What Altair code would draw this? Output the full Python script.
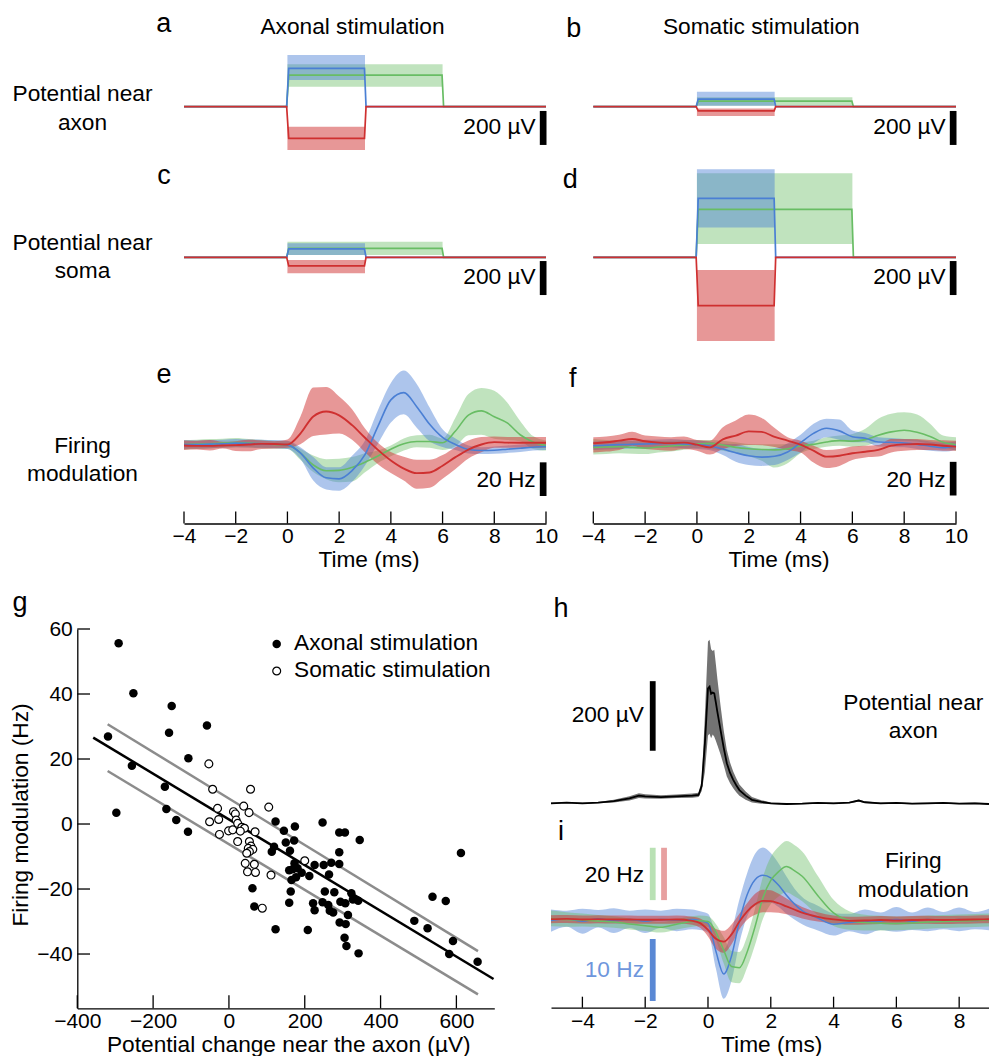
import altair as alt
import pandas as pd

# ============================ DATA ============================
# panels a-d : pulse responses (series order: blue, green, red)
PULSE_END = [3, 6, 3]                       # ms
A_MEAN = [225, 186, -186]; A_LO = [157, 118, -255]; A_HI = [304, 249, -118]
B_MEAN = [45, 33, -25];    B_LO = [6, 6, -55];      B_HI = [88, 55, -10]
C_MEAN = [49, 53, -51];    C_LO = [14, 14, -94];    C_HI = [82, 92, -16]
D_MEAN = [347, 282, -284]; D_LO = [175, 78, -492];  D_HI = [518, 494, -75]

# panels e-f : firing modulation (Hz)
T_EF = [-4, -3.5, -3, -2.5, -2, -1.5, -1, -0.5, 0, 0.5, 1, 1.5, 2, 2.5, 3, 3.5, 4,
        4.5, 5, 5.5, 6, 6.5, 7, 7.5, 8, 8.5, 9, 9.5, 10]
E_RED_MEAN = [-0.6, -0.8, -0.8, -0.6, -0.4, 0, 0.4, 0.3, 0, 6.5, 16.7, 19.6, 17.3, 11.5, 4.0, -3.2, -9.5,
              -14.3, -17.0, -16.6, -12.6, -7.5, -3.0, 0, 1.4, 1.1, 1.0, 1.0, 1.0]
E_RED_HI = [2.4, 2.2, 2.6, 1.6, 2.0, 2.8, 2.4, 2.0, 3.0, 16.5, 33.8, 34.1, 28.5, 21, 9.5, 1, -4.5,
            -7.3, -9.1, -9.1, -6.3, -1.6, 2.4, 4.4, 4.8, 4.4, 4.4, 4.4, 4.4]
E_RED_LO = [-3.2, -3.0, -3.6, -2.4, -3.8, -4.0, -2.6, -2.4, -2.0, 0.2, 5.0, 6.0, 6.5, 2.8, -4.6, -11.7, -17,
            -21.4, -26.3, -25.7, -20.4, -14.5, -8.3, -4.6, -2.0, -2.0, -2.0, -2.0, -2.0]
E_BLUE_MEAN = [0, 0, 0.2, 0.4, 0.8, 0.6, 0.4, 0.2, -0.2, -5.0, -14.0, -19.8, -20.4, -15.5, -6.0, 10.8, 26.5,
               30.8, 22.5, 12, 4.2, 0, -3.0, -3.6, -3.4, -2.8, -2.2, -1.6, -1.2]
E_BLUE_HI = [2.5, 2.4, 2.6, 2.8, 3.2, 3.0, 2.8, 2.6, 2.2, -1.6, -7.5, -13.5, -13.5, -6.7, 2.4, 20.4, 36.6,
             44, 36, 22, 9, 3.6, -0.6, -1.6, -1.2, -0.6, 0, 0.4, 0.8]
E_BLUE_LO = [-2.5, -2.4, -2.2, -2.0, -1.6, -1.8, -2.0, -2.2, -2.6, -8.5, -21.4, -26.7, -27.5, -22.2, -12.5, 0.4, 13,
             18, 10, 2, -1.5, -3.2, -5.3, -5.6, -5.5, -5.0, -4.4, -3.6, -3.2]
E_GREEN_MEAN = [0, 0.2, 0.4, 0.8, 1.2, 0.8, 0.4, 0, -0.2, -5.0, -12.2, -15.6, -15.4, -13.6, -10.5, -6.8, -2.8,
                0.4, 1.8, 1.8, 1.0, 8.0, 17.5, 20.0, 16.5, 12.8, 5.8, 1.5, -0.6]
E_GREEN_HI = [2.6, 2.8, 3.2, 3.4, 3.8, 3.2, 2.8, 2.2, 2.0, -2.5, -6.5, -8.7, -8.5, -7.5, -5.2, -3.6, -0.6,
              3.6, 5.5, 5.8, 3.6, 16, 30, 33.6, 32, 25, 14, 5, 2.4]
E_GREEN_LO = [-3.0, -2.6, -2.4, -2.0, -1.6, -1.8, -2.2, -2.4, -2.6, -9, -16.4, -20.6, -22.4, -22, -16.5, -11, -7,
              -3.6, -1.6, -2, -3.2, -1, 5.5, 5.8, 3.4, 2.6, 2, -2.6, -3.6]

F_RED_MEAN = [0.4, 1.0, 2.0, 3.0, 1.6, 0.8, 0.5, 0.8, -0.4, -2.0, 2.8, 5.0, 7.5, 7.2, 4.2, 2.0, -0.4,
              -4.0, -7.5, -7.0, -5.5, -4.6, -3.5, -1.0, -0.2, 0, -0.3, -1.0, -1.6]
F_RED_HI = [4, 4.4, 5.5, 7.3, 5, 4.5, 4, 4.4, 2.4, 2, 10, 14, 17.5, 15.5, 9.5, 4, 2,
            -1, -3.6, -3, -1.5, -1, -0.6, 3, 3, 3, 2.4, 2.2, 2]
F_RED_LO = [-5, -4.5, -3.5, -1, -3, -3.5, -4, -3, -4, -6.3, -3, -1.2, -0.6, -0.8, -1.8, -3.5, -5,
            -11, -14.3, -13, -9.5, -8, -7.5, -5, -4, -3.6, -3.6, -4, -4]
F_BLUE_MEAN = [-1, -0.7, -0.4, -0.2, 0, 0.2, 0.4, 0, -0.4, -1.2, -3.0, -5.2, -7.0, -7.8, -7.3, -4.8, 0.8,
               6.3, 9.4, 7.8, 4.3, 3.4, 1.2, 1.0, 0.6, -0.2, -1.3, -2.2, -1.0]
F_BLUE_HI = [1.5, 1.8, 2.1, 2.3, 2.5, 2.7, 2.9, 2.5, 2.1, 1.3, 0.2, 0, -1.8, -3, -2.5, 0.5, 5.5,
             12, 15, 14.5, 8, 6.5, 4, 3.5, 3, 2.5, 1.5, 0.8, 1.5]
F_BLUE_LO = [-3.5, -3.2, -2.9, -2.7, -2.5, -2.3, -2.1, -2.5, -2.9, -3.7, -6.5, -10.5, -12.5, -13, -12.5, -9.5, -5,
             0.5, 4, 2.5, 1, 1, -1.5, -1.8, -2, -3, -4, -4.5, -3.5]
F_GREEN_MEAN = [-2, -1.8, -1.6, -2.0, -2.4, -1.8, -1.2, -0.6, 0, 0.4, -0.6, -2.0, -2.8, -3.3, -3.5, -2.8, -1.2,
                -0.2, 1.2, 2.0, 1.7, 2.6, 5.2, 7.2, 8.2, 7.0, 4.5, 1.0, -0.4]
F_GREEN_HI = [3, 2.4, 2, 1.8, 1.6, 1.8, 2, 2.2, 2.4, 2.4, 2, 1, 0, -0.2, -0.2, 0, 1,
              2, 4, 5, 6, 9, 15, 18, 18.8, 17.5, 12, 5, 4]
F_GREEN_LO = [-6.3, -6, -5.5, -5.8, -6, -5, -4.4, -3.4, -2.4, -3, -4, -5.5, -7.3, -10, -14, -11.5, -5.5,
              -3, -1.6, -1, -1.6, -1, 1, 2, 2, 1.5, 0, -2, -4]

# panel g : scatter
AX_X = [-291, -252, -151, -319, -158, -58, -256, -107, -169, -297, -165, -139, -108, 123, 247, 174, 145, 291,
        306, 345, 150, 172, 119, 113, 161, 291, 612, 173, 168, 159, 181, 192, 212, 226, 250, 270, 291, 264,
        165, 177, 163, 159, 62, 67, 123, 208, 222, 226, 253, 278, 247, 262, 266, 275, 294, 307, 323, 327,
        341, 314, 292, 308, 305, 310, 342, 489, 524, 537, 572, 591, 581, 656]
AX_Y = [55.6, 40.2, 36.3, 26.9, 28.1, 30.3, 17.9, 20.2, 11.5, 3.5, 4.6, 1.2, -2.4, 0.8, 0.5, -0.8, -2.1, -2.6,
        -2.6, -4.9, -5.7, -5.1, -7, -8.5, -8.2, -8.7, -8.9, -12.1, -13.9, -14.2, -13.6, -15, -16, -12.6, -12.6,
        -11.9, -12.3, -15.5, -17.2, -16.4, -20.8, -24.2, -19.8, -25.4, -32.4, -32.6, -24.4, -26.5, -20.8, -21,
        -24.1, -24.9, -26.7, -27.2, -23.9, -24.4, -21.3, -23.2, -23.6, -28, -30.3, -30.8, -35, -37.5, -39.8,
        -29.8, -32.1, -22.4, -23.7, -36, -40, -42.4]
SO_X = [-53, -43, 57, 105, 39, -30, 53, 12, 17, -27, -51, 19, 23, 34, 41, 69, -1, 10, 30, -25, 23, 54, 58,
        51, 63, 54, 47, 200, 43, 67, 49, 70, 111, 88]
SO_Y = [18.5, 10.7, 10.7, 5.2, 5.5, 4.8, 3.5, 3.8, 3.1, 1.4, 0.7, 1.2, 0.2, -1, -1.3, -2.4, -2.1, -1.8, -2.2,
        -3.2, -5.4, -5.4, -6.8, -7.5, -7.8, -8.5, -9, -11.3, -12.1, -12.4, -14.7, -14.9, -15.7, -25.9]
FIT_X = [-358, 698];   FIT_Y = [26.6, -47.7]
CI_UP_X = [-320, 657]; CI_UP_Y = [30.7, -39.1]
CI_LO_X = [-320, 657]; CI_LO_Y = [16.3, -52.4]

# panel h : spike-triggered potential near axon (uV)
T_H = [-5, -4.5, -4, -3.5, -3, -2.5, -2.2, -2, -1.5, -1, -0.5, -0.3, -0.2, -0.1, 0, 0.05, 0.1, 0.15, 0.2,
       0.25, 0.3, 0.4, 0.5, 0.6, 0.7, 0.8, 0.9, 1.0, 1.2, 1.4, 1.7, 2, 2.5, 3, 3.5, 4, 4.5, 4.8, 5, 5.5,
       6, 6.5, 7, 7.5, 8, 8.5, 8.95]
H_MEAN = [0, 2, 0, 2, 6, 14, 22, 20, 18, 20, 22, 24, 50, 170, 330, 335, 315, 318, 316, 290, 262, 210, 160,
          115, 88, 68, 52, 38, 22, 10, 4, 0, -2, -1, 1, 0, 2, 8, 3, 0, 1, -1, 0, 1, -1, 0, -2]
H_SD = [2, 2, 2, 2, 4, 6, 7, 6, 5, 5, 6, 6, 15, 80, 135, 135, 128, 120, 125, 110, 95, 70, 50, 38, 30, 24,
        20, 16, 12, 8, 5, 2, 2, 2, 2, 2, 2, 3, 2, 2, 2, 2, 2, 2, 2, 2, 2]

# panel i : firing modulation (red/green in 20-Hz units, blue in 10-Hz units)
T_I = [-5, -4.5, -4, -3.5, -3, -2.5, -2, -1.5, -1, -0.5, -0.25, 0, 0.25, 0.5, 0.75, 1, 1.25, 1.5, 1.75, 2,
       2.25, 2.5, 2.75, 3, 3.5, 4, 4.5, 5, 5.5, 6, 6.5, 7, 7.5, 8, 8.5, 9]
I_RED_MEAN = [0.3, 0.4, 0.2, 0.3, 0.2, 0.2, 0.1, 0.1, 0.2, -0.3, -1.2, -3.8, -7.2, -8.3, -5.5, -0.6, 3.3, 6.0,
              7.3, 7.2, 6.4, 5.2, 4.0, 2.8, 1.2, 0.2, -0.3, -0.2, 0, -0.2, 0, 0.1, 0, 0.1, 0.2, 0.3]
I_RED_SD = [1.5, 1.5, 1.5, 1.5, 1.5, 1.5, 1.5, 1.5, 1.5, 1.5, 1.8, 2.5, 3.8, 4.2, 3.8, 3.0, 3.2, 4.0, 4.3,
            4.2, 3.6, 3.0, 2.5, 2.2, 1.8, 1.5, 1.5, 1.5, 1.5, 1.5, 1.5, 1.5, 1.5, 1.5, 1.5, 1.5]
I_GREEN_MEAN = [0.6, 0.2, 0, -0.4, -0.8, -1.5, -2.2, -2.8, -1.6, -0.6, -0.3, -0.6, -4.5, -11.5, -17.8, -18.2,
                -12.1, -2.5, 8.5, 15.1, 18.5, 20.4, 18.9, 16.7, 9.3, 2.7, -0.2, -1.0, -1.2, -1.3, -1.1, -0.8,
                -0.6, -0.4, -0.2, 0]
I_GREEN_SD = [3, 2.8, 2.5, 2.3, 2.2, 2.1, 2, 2, 2, 2, 2, 2, 3, 5, 6, 6, 6, 7, 8, 9, 9.5, 9.8, 9.8, 9.5, 7.5,
              5, 3.5, 3, 2.8, 2.6, 2.5, 2.5, 2.5, 2.5, 2.5, 2.5]
I_BLUE_MEAN = [-0.1, 0.2, -0.2, 0.2, -0.1, 0.1, -0.2, 0.1, 0, 0.1, -0.1, -0.5, -5.0, -8.7, -5.8, -0.2, 4.1,
               6.5, 7.2, 6.8, 5.6, 4.0, 2.6, 1.5, 0.3, -0.7, -0.4, -0.3, -0.2, 0.1, -0.2, 0.1, -0.1, 0.1,
               -0.1, 0.1]
I_BLUE_SD = [1.8, 1.3, 2.0, 1.4, 2.0, 1.4, 1.9, 1.4, 1.8, 1.6, 1.5, 1.5, 2.8, 4.0, 4.0, 3.5, 3.5, 4.2, 4.5,
             4.0, 3.5, 3.0, 2.5, 2.2, 2.0, 1.8, 1.4, 2.0, 1.4, 2.0, 1.4, 1.9, 1.4, 1.9, 1.4, 1.8]

# ticks
TIME_TICKS = [-4, -2, 0, 2, 4, 6, 8, 10]
I_TICKS = [-4, -2, 0, 2, 4, 6, 8]
G_X_TICKS = [-400, -200, 0, 200, 400, 600]
G_Y_TICKS = [-40, -20, 0, 20, 40, 60]

# scale bars (data units)
BAR_AB = [-25, -225]; BAR_CD = [-22, -222]; BAR_EF = [-10.6, -30.6]
BAR_H = [151, 351]; BAR_I_GR = [7.6, 27.6]; BAR_I_BLUE = [-3.06, -13.06]

# ============================ STYLE ============================
FONT = "Liberation Sans"
W, H = 981, 1048
BLUE, GREEN, RED = "#4a7fd4", "#68bd64", "#cf3030"
COL = {"blue": BLUE, "green": GREEN, "red": RED}
BAND_OP = {"blue": 0.45, "green": 0.42, "red": 0.5}
SERIES = ["blue", "green", "red"]
ORDER = ["green", "blue", "red"]
LETTER, TXT, TICKF = 27, 22.7, 21


def sc(domain, rng):
    return alt.Scale(domain=domain, range=rng, nice=False, zero=False)


def ysc(base, k, lo, hi):
    return sc([lo, hi], [base - lo * k, base - hi * k])


XL = sc([-4, 10], [176, 538])
XR = sc([-4, 10], [585.3, 948])
XHI = sc([-5, 8.95], [543, 981])
XG = sc([-400, 700], [69.3, 486.3])
YG = sc([-56.7, 60], [1000.3, 621])

Y_A = ysc(98.7, 0.17, -520, 540)
Y_C = ysc(249.3, 0.17, -520, 540)
Y_E = ysc(436.5, 1.683, -40, 50)
Y_F = ysc(436.0, 1.683, -40, 50)
Y_H = ysc(795.3, 0.348, -60, 500)
Y_I = ysc(912, 2.617, -30, 35)
Y_IB = ysc(912, 6.2, -15, 15)


def one(**kw):
    return pd.DataFrame({k: [v] for k, v in kw.items()})


def txt(s, x, y, size=TXT, align="center", color="black", angle=0):
    return alt.Chart(one(label=s)).mark_text(
        align=align, baseline="alphabetic", font=FONT, fontSize=size, color=color, angle=angle
    ).encode(x=alt.value(x), y=alt.value(y), text="label:N")


def pulse_layers(mean, lo, hi, xs, ys):
    out = []
    for name in ORDER:
        i = SERIES.index(name)
        df = one(t0=0, t1=PULSE_END[i], lo=lo[i], hi=hi[i])
        out.append(alt.Chart(df).mark_rect(color=COL[name], opacity=BAND_OP[name]).encode(
            x=alt.X("t0:Q", scale=xs, axis=None), x2="t1:Q",
            y=alt.Y("lo:Q", scale=ys, axis=None), y2="hi:Q"))
    for name in ORDER:
        i = SERIES.index(name)
        d = PULSE_END[i]
        df = pd.DataFrame({"t": [-4, -0.03, 0.05, d - 0.02, d + 0.04, 10],
                           "v": [0, 0, mean[i], mean[i], 0, 0]})
        out.append(alt.Chart(df).mark_line(color=COL[name], strokeWidth=1.7).encode(
            x=alt.X("t:Q", scale=xs, axis=None), y=alt.Y("v:Q", scale=ys, axis=None)))
    return out


def curve_layers(t, series, xs, ys, order=ORDER, lw=1.6):
    out = []
    for name in order:
        m, lo, hi, ysn = series[name]
        df = pd.DataFrame({"t": t, "lo": lo, "hi": hi})
        out.append(alt.Chart(df).mark_area(color=COL[name], opacity=BAND_OP[name], interpolate="monotone").encode(
            x=alt.X("t:Q", scale=xs, axis=None), y=alt.Y("lo:Q", scale=ysn, axis=None), y2="hi:Q"))
    for name in order:
        m, lo, hi, ysn = series[name]
        df = pd.DataFrame({"t": t, "m": m})
        out.append(alt.Chart(df).mark_line(color=COL[name], strokeWidth=lw + (0.3 if name == "red" else 0),
                                           interpolate="monotone").encode(
            x=alt.X("t:Q", scale=xs, axis=None), y=alt.Y("m:Q", scale=ysn, axis=None)))
    return out


def vbar(x, y01, xs, ys, color="black", width=6.7):
    df = one(t=x, y0=y01[0], y1=y01[1])
    return alt.Chart(df).mark_rule(color=color, strokeWidth=width).encode(
        x=alt.X("t:Q", scale=xs, axis=None), y=alt.Y("y0:Q", scale=ys, axis=None), y2="y1:Q")


def xaxis_ticks(values, xs, y_axis, tick_len, pad):
    ax = alt.Axis(orient="bottom", offset=y_axis - H, values=values, title=None, labelPadding=pad,
                  ticks=False, tickSize=0, labelFlush=False, labelOverlap=False, grid=False)
    return alt.Chart(pd.DataFrame({"v": values})).mark_rule(color="black", strokeWidth=1.3).encode(
        x=alt.X("v:Q", scale=xs, axis=ax), y=alt.value(y_axis - tick_len), y2=alt.value(y_axis))


layers = []
# ---- a-d
layers += pulse_layers(A_MEAN, A_LO, A_HI, XL, Y_A)
layers += pulse_layers(B_MEAN, B_LO, B_HI, XR, Y_A)
layers += pulse_layers(C_MEAN, C_LO, C_HI, XL, Y_C)
layers += pulse_layers(D_MEAN, D_LO, D_HI, XR, Y_C)
layers += [vbar(9.89, BAR_AB, XL, Y_A), vbar(9.89, BAR_AB, XR, Y_A),
           vbar(9.89, BAR_CD, XL, Y_C), vbar(9.89, BAR_CD, XR, Y_C)]

# ---- e-f
layers += curve_layers(T_EF, {"red": (E_RED_MEAN, E_RED_LO, E_RED_HI, Y_E),
                              "blue": (E_BLUE_MEAN, E_BLUE_LO, E_BLUE_HI, Y_E),
                              "green": (E_GREEN_MEAN, E_GREEN_LO, E_GREEN_HI, Y_E)}, XL, Y_E)
layers += curve_layers(T_EF, {"red": (F_RED_MEAN, F_RED_LO, F_RED_HI, Y_F),
                              "blue": (F_BLUE_MEAN, F_BLUE_LO, F_BLUE_HI, Y_F),
                              "green": (F_GREEN_MEAN, F_GREEN_LO, F_GREEN_HI, Y_F)}, XR, Y_F)
layers += [vbar(9.89, BAR_EF, XL, Y_E), vbar(9.89, BAR_EF, XR, Y_F)]
layers += [xaxis_ticks(TIME_TICKS, XL, 515.5, 12, 2), xaxis_ticks(TIME_TICKS, XR, 515.5, 12, 2)]

# ---- g
for xs_, ys_, col in [(CI_UP_X, CI_UP_Y, "#8c8c8c"), (CI_LO_X, CI_LO_Y, "#8c8c8c"), (FIT_X, FIT_Y, "black")]:
    layers.append(alt.Chart(pd.DataFrame({"x": xs_, "y": ys_})).mark_line(color=col, strokeWidth=2.5).encode(
        x=alt.X("x:Q", scale=XG, axis=None), y=alt.Y("y:Q", scale=YG, axis=None)))
layers.append(alt.Chart(pd.DataFrame({"x": AX_X, "y": AX_Y})).mark_circle(color="black", size=72, opacity=1).encode(
    x=alt.X("x:Q", scale=XG, axis=None), y=alt.Y("y:Q", scale=YG, axis=None)))
layers.append(alt.Chart(pd.DataFrame({"x": SO_X, "y": SO_Y})).mark_circle(
    fill="white", stroke="black", strokeWidth=1.2, size=62, opacity=1).encode(
    x=alt.X("x:Q", scale=XG, axis=None), y=alt.Y("y:Q", scale=YG, axis=None)))
layers.append(xaxis_ticks(G_X_TICKS, XG, 1000.3, 13, 2))
layers.append(alt.Chart(pd.DataFrame({"v": G_Y_TICKS})).mark_rule(color="black", strokeWidth=1.3).encode(
    y=alt.Y("v:Q", scale=YG, axis=alt.Axis(orient="left", offset=-69.3, values=G_Y_TICKS, title=None,
                                             labelPadding=5, ticks=False, tickSize=0, labelOverlap=False,
                                             labelFlush=False, grid=False)),
    x=alt.value(69.3), x2=alt.value(82)))
layers.append(alt.Chart(one(a=1)).mark_circle(color="black", size=72, opacity=1).encode(
    x=alt.value(268.7), y=alt.value(636)))
layers.append(alt.Chart(one(a=1)).mark_circle(fill="white", stroke="black", strokeWidth=1.2, size=62,
                                              opacity=1).encode(x=alt.value(268.7), y=alt.value(663)))

# ---- h
hdf = pd.DataFrame({"t": T_H, "m": H_MEAN, "sd": H_SD})
hdf["lo"] = hdf["m"] - hdf["sd"]
hdf["hi"] = hdf["m"] + hdf["sd"]
layers.append(alt.Chart(hdf).mark_area(color="#646464", opacity=0.9).encode(
    x=alt.X("t:Q", scale=XHI, axis=None), y=alt.Y("lo:Q", scale=Y_H, axis=None), y2="hi:Q"))
layers.append(alt.Chart(hdf).mark_line(color="black", strokeWidth=1.8).encode(
    x=alt.X("t:Q", scale=XHI, axis=None), y=alt.Y("m:Q", scale=Y_H, axis=None)))
layers.append(vbar(-1.76, BAR_H, XHI, Y_H, width=5.8))

# ---- i
def with_band(m, sd):
    lo = [a - b for a, b in zip(m, sd)]
    hi = [a + b for a, b in zip(m, sd)]
    return m, lo, hi

ib = with_band(I_BLUE_MEAN, I_BLUE_SD)
ig = with_band(I_GREEN_MEAN, I_GREEN_SD)
ir = with_band(I_RED_MEAN, I_RED_SD)
layers += curve_layers(T_I, {"blue": (*ib, Y_IB), "green": (*ig, Y_I), "red": (*ir, Y_I)},
                       XHI, Y_I, order=["blue", "green", "red"], lw=1.5)
layers += [vbar(-1.76, BAR_I_GR, XHI, Y_I, color="#b9e1b4", width=5.8),
           vbar(-1.40, BAR_I_GR, XHI, Y_I, color="#e7a0a0", width=5.8),
           vbar(-1.76, BAR_I_BLUE, XHI, Y_IB, color="#5a88d4", width=5.8)]
layers.append(xaxis_ticks(I_TICKS, XHI, 999.7, 11, 3))

# ---- texts
layers += [
    txt("a", 155.7, 24.3, LETTER), txt("b", 565.7, 28.5, LETTER),
    txt("c", 156, 176, LETTER), txt("d", 562.3, 180.3, LETTER),
    txt("e", 156, 374.7, LETTER), txt("f", 564.7, 378.7, LETTER),
    txt("g", 12, 602.7, LETTER), txt("h", 553, 608.7, LETTER), txt("i", 553, 832, LETTER),
    txt("Axonal stimulation", 344.5, 26), txt("Somatic stimulation", 753.3, 26),
    txt("Potential near", 74.5, 93), txt("axon", 74.5, 122),
    txt("Potential near", 74.5, 242), txt("soma", 74.5, 270.3),
    txt("Firing", 74.5, 444.7), txt("modulation", 74.5, 472.7),
    txt("200 µV", 527.7, 126.3, align="right"), txt("200 µV", 937.7, 126.3, align="right"),
    txt("200 µV", 527.7, 276.3, align="right"), txt("200 µV", 937.7, 276.3, align="right"),
    txt("20 Hz", 527.7, 478.7, align="right"), txt("20 Hz", 937.7, 478.7, align="right"),
    txt("Time (ms)", 361, 559), txt("Time (ms)", 771, 559), txt("Time (ms)", 763.7, 1044),
    txt("Potential change near the axon (µV)", 280.8, 1044),
    txt("Firing modulation (Hz)", 20, 807, angle=270),
    txt("Axonal stimulation", 286, 642, align="left"), txt("Somatic stimulation", 286, 669.3, align="left"),
    txt("200 µV", 636, 713.7, align="right"),
    txt("Potential near", 905.3, 702), txt("axon", 905.3, 730.3),
    txt("20 Hz", 636, 873.7, align="right"), txt("10 Hz", 636, 969.3, align="right", color="#6e96dc"),
    txt("Firing", 905.3, 860.3), txt("modulation", 905.3, 888.7),
]

chart = alt.layer(*layers).resolve_scale(x="independent", y="independent").properties(
    width=W, height=H, padding=0, autosize=alt.AutoSizeParams(type="none"), background="white"
).configure_view(stroke=None).configure_axis(
    grid=False, domainColor="black", domainWidth=1.3, labelFont=FONT, labelFontSize=TICKF,
    labelColor="black"
)

chart.save("out.html", embed_options={"renderer": "svg", "actions": False})
